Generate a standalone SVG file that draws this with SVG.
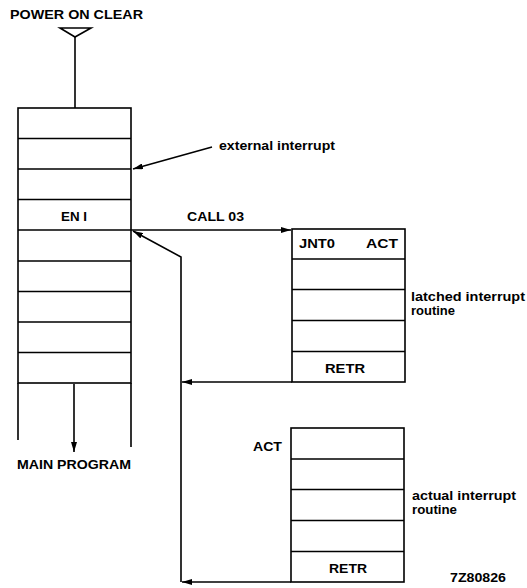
<svg xmlns="http://www.w3.org/2000/svg" width="527" height="588" viewBox="0 0 527 588">
<defs>
<style>
.ln{stroke:#000;stroke-width:1.6;fill:none}
.bx{stroke:#000;stroke-width:1.6;fill:#fff}
text{font-family:"Liberation Sans",Arial,sans-serif;font-weight:bold;font-size:12px;fill:#000}
</style>
<marker id="ah" viewBox="0 0 10 6" refX="10" refY="3" markerWidth="10" markerHeight="6" markerUnits="userSpaceOnUse" orient="auto">
<path d="M0,0 L10,3 L0,6 Z" fill="#000"/>
</marker>
</defs>
<g id="power-on-clear">
<text x="10" y="19" textLength="133" lengthAdjust="spacingAndGlyphs">POWER ON CLEAR</text>
<path class="ln" d="M60,28 L91,28 L75,37 Z"/>
</g>
<g id="main-program">
<rect class="bx" x="18" y="108" width="113" height="275"/>
<path class="ln" d="M18,138.5H131M18,169H131M18,199.5H131M18,230H131M18,261H131M18,291.5H131M18,322H131M18,352.5H131"/>
<path class="ln" d="M18,383V440M131,383V447"/>
<text x="61" y="221" textLength="26" lengthAdjust="spacingAndGlyphs">EN I</text>
<text x="17" y="469" textLength="114" lengthAdjust="spacingAndGlyphs">MAIN PROGRAM</text>
</g>
<g id="latched-routine">
<rect class="bx" x="292" y="229" width="113" height="153"/>
<path class="ln" d="M292,259H405M292,289.5H405M292,320.5H405M292,351.5H405"/>
<text x="299" y="248" textLength="36" lengthAdjust="spacingAndGlyphs">JNT0</text>
<text x="366" y="248" textLength="32" lengthAdjust="spacingAndGlyphs">ACT</text>
<text x="325" y="373" textLength="40" lengthAdjust="spacingAndGlyphs">RETR</text>
<text x="411" y="301" textLength="114" lengthAdjust="spacingAndGlyphs">latched interrupt</text>
<text x="411" y="315" textLength="44" lengthAdjust="spacingAndGlyphs">routine</text>
</g>
<g id="actual-routine">
<rect class="bx" x="291" y="428" width="113" height="154"/>
<path class="ln" d="M291,459H404M291,489.5H404M291,520.5H404M291,551.5H404"/>
<text x="253" y="451" textLength="29" lengthAdjust="spacingAndGlyphs">ACT</text>
<text x="329" y="573" textLength="38" lengthAdjust="spacingAndGlyphs">RETR</text>
<text x="412" y="500" textLength="104" lengthAdjust="spacingAndGlyphs">actual interrupt</text>
<text x="412" y="514" textLength="45" lengthAdjust="spacingAndGlyphs">routine</text>
</g>
<g id="labels">
<text x="219" y="150" textLength="116" lengthAdjust="spacingAndGlyphs">external interrupt</text>
<text x="187" y="221" textLength="57" lengthAdjust="spacingAndGlyphs">CALL 03</text>
<text x="450" y="582" textLength="56" lengthAdjust="spacingAndGlyphs">7Z80826</text>
</g>
<g id="connectors">
<path class="ln" d="M75,37V108"/>
<path class="ln" d="M74,384V452" marker-end="url(#ah)"/>
<path class="ln" d="M212,147L133,169" marker-end="url(#ah)"/>
<path class="ln" d="M131,230H291" marker-end="url(#ah)"/>
<path class="ln" d="M292,382H182" marker-end="url(#ah)"/>
<path class="ln" d="M291,582H182" marker-end="url(#ah)"/>
<path class="ln" d="M181,582V257L133,231" marker-end="url(#ah)"/>
</g>
</svg>
